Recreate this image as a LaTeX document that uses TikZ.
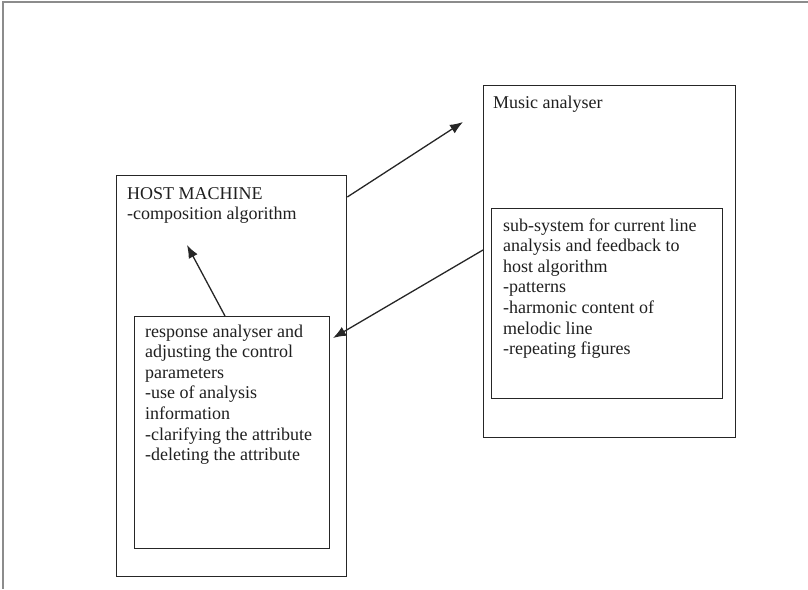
\documentclass[tikz,border=0pt]{standalone}
\usepackage{fontspec}
\setmainfont{Liberation Serif}
\usetikzlibrary{arrows.meta,calc}

% stacked lines of text whose reference point is the first baseline
\newcommand{\textlines}[1]{\vtop{\baselineskip=20.6pt\lineskiplimit=-20pt #1}}

\begin{document}
\begin{tikzpicture}[x=1pt,y=-1pt,
  box/.style={draw=black!85,line width=1.3pt,inner sep=0pt,anchor=north west},
  label/.style={anchor=base west,inner sep=0pt,text=black!88,font=\fontsize{18}{20.6}\selectfont},
  link/.style={draw=black!85,line width=1.3pt,-{Latex[length=13pt,width=10pt]}},
  frameline/.style={draw=black!45,line width=1.6pt}]

\useasboundingbox (0,0) rectangle (808,589);

% outer frame (top and left edges only)
\draw[frameline] (808,2) -- (3,2) -- (3,589);

% host machine with its response analyser
\node[box,minimum width=230pt,minimum height=401pt] (host) at (116,175) {};
\node[box,minimum width=195pt,minimum height=232pt] (resp) at (134,316) {};

% music analyser with its sub-system
\node[box,minimum width=252pt,minimum height=352pt] (music) at (483,85) {};
\node[box,minimum width=231pt,minimum height=190pt] (sub) at (491,208) {};

% texts
\node[label] (hosttext) at (127,199) {\textlines{\hbox{HOST MACHINE}\hbox{-composition algorithm}}};
\node[label] (resptext) at (145,337) {\textlines{\hbox{response analyser and}\hbox{adjusting the control}\hbox{parameters}\hbox{-use of analysis}\hbox{information}\hbox{-clarifying the attribute}\hbox{-deleting the attribute}}};
\node[label] (musictext) at (493,108) {Music analyser};
\node[label] (subtext) at (503,231) {\textlines{\hbox{sub-system for current line}\hbox{analysis and feedback to}\hbox{host algorithm}\hbox{-patterns}\hbox{-harmonic content of}\hbox{melodic line}\hbox{-repeating figures}}};

% connectors
\coordinate (tomusic) at (463,122);
\coordinate (toresp) at (333,338);
\coordinate (tohost) at (187,245);
\draw[link] ($(host.north east)+(0,22)$) -- (tomusic);
\draw[link] ($(music.north west)+(0,165)$) -- (toresp);
\draw[link] ($(resp.north west)+(91,0)$) -- (tohost);

\end{tikzpicture}
\end{document}
